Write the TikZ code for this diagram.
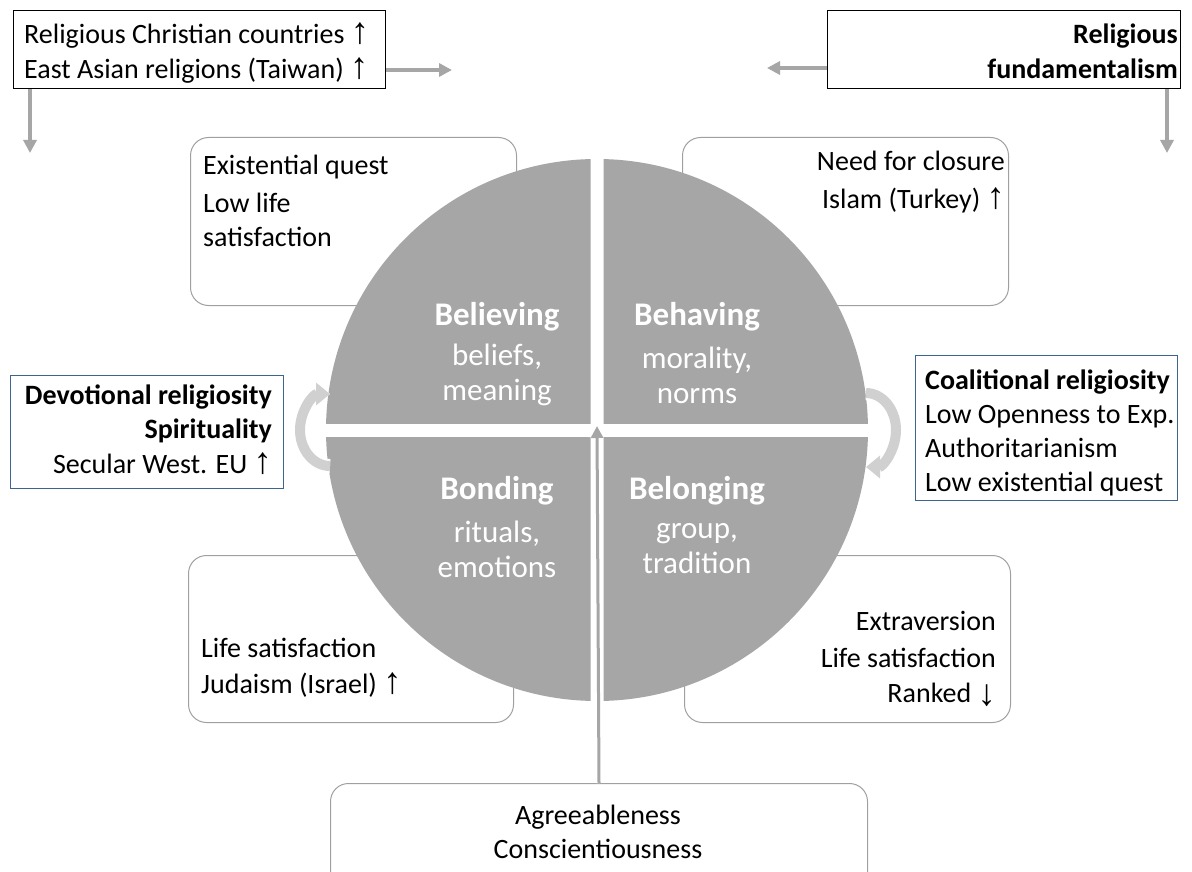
\documentclass[tikz,border=0pt]{standalone}
\usepackage{fontspec}
\setmainfont{Carlito}
\newfontfamily\arrfont{Liberation Sans}
\usetikzlibrary{arrows.meta}
\definecolor{circgray}{HTML}{A6A6A6}
\definecolor{arrgray}{HTML}{A6A6A6}
\definecolor{lightarr}{HTML}{D0D0D0}
\definecolor{boxgray}{HTML}{A0A0A0}
\definecolor{bluebd}{HTML}{3E6590}
\newcommand{\uarr}{\scalebox{1.3}[1.32]{\arrfont\char"2191}}
\newcommand{\darr}{\raisebox{-0.1em}{\scalebox{1.3}[1.32]{\arrfont\char"2193}}}
\begin{document}
\begin{tikzpicture}[x=1pt,y=-1pt,
 body/.style={font=\fontsize{28}{34}\selectfont, inner sep=0pt},
 quadhead/.style={font=\fontsize{33}{38}\selectfont\bfseries, text=white, inner sep=0pt},
 quadsub/.style={font=\fontsize{31}{35}\selectfont, text=white, inner sep=0pt, align=center},
 sharpbox/.style={draw=black, line width=1.2pt, inner sep=0pt},
 bluebox/.style={draw=bluebd, line width=1.2pt, inner sep=0pt},
 roundbox/.style={draw=boxgray, line width=1pt, rounded corners=18pt, inner sep=0pt},
 grayarrow/.style={draw=arrgray, line width=3.5pt, -{Triangle[length=13pt,width=13pt]}},
 cyclearrow/.style={draw=lightarr, line width=10pt, -{Triangle[length=14pt,width=22pt]}},
 cycleoutline/.style={draw=white, line width=14pt, -{Triangle[length=17pt,width=28pt]}},
 cenout/.style={draw=white, line width=7pt, -{Triangle[length=15pt,width=17pt]}},
 cenarr/.style={draw=arrgray, line width=3pt, -{Triangle[length=12pt,width=12pt]}},
]
\useasboundingbox[fill=white] (0,0) rectangle (1192,872);
\clip (0,0) rectangle (1192,872);

% rounded boxes (behind circle)
\node[roundbox, minimum width=326pt, minimum height=168pt, anchor=north west] (qbl1) at (190,137) {};
\node[roundbox, minimum width=326pt, minimum height=168pt, anchor=north west] (qbr1) at (682,137) {};
\node[roundbox, minimum width=325pt, minimum height=167pt, anchor=north west] (qbl2) at (188,555) {};
\node[roundbox, minimum width=326pt, minimum height=167pt, anchor=north west] (qbr2) at (684,555) {};
\node[roundbox, minimum width=537pt, minimum height=110pt, anchor=north west] (bbox) at (330,783) {};

% circle quadrants
\begin{scope}
\clip (300,100) rectangle (590.5,423);
\fill[circgray] (597,430) circle[radius=271];
\end{scope}
\begin{scope}
\clip (603.5,100) rectangle (900,423);
\fill[circgray] (597,430) circle[radius=271];
\end{scope}
\begin{scope}
\clip (300,437) rectangle (590.5,760);
\fill[circgray] (597,430) circle[radius=271];
\end{scope}
\begin{scope}
\clip (603.5,437) rectangle (900,760);
\fill[circgray] (597,430) circle[radius=271];
\end{scope}

% quadrant texts
\node[quadhead] (h1) at (497,317) {Believing};
\node[quadsub] (s1) at (497,375) {beliefs,\\meaning};
\node[quadhead] (h2) at (697,317) {Behaving};
\node[quadsub] (s2) at (697,375) {morality,\\norms};
\node[quadhead] (h3) at (497,491) {Bonding};
\node[quadsub] (s3) at (497,549) {rituals,\\emotions};
\node[quadhead] (h4) at (697,491) {Belonging};
\node[quadsub] (s4) at (697,549) {group,\\tradition};

% rounded box texts
\node[body, anchor=west, align=left] (t1) at (203,201) {Existential quest\\[4pt]Low life\\satisfaction};
\node[body, anchor=east, align=right] (t2) at (1005,182) {Need for closure\\[4pt]Islam (Turkey) \uarr};
\node[body, anchor=west, align=left] (t3) at (201,668) {Life satisfaction\\[2pt]Judaism (Israel) \uarr};
\node[body, anchor=east, align=right] (t4) at (996,659) {Extraversion\\[3pt]Life satisfaction\\[1pt]Ranked \darr};
\node[body, align=center] (t5) at (598,832) {Agreeableness\\Conscientiousness};

% top boxes
\node[sharpbox, minimum width=372pt, minimum height=78pt, anchor=north west] (tlbox) at (13,10) {};
\node[body, anchor=west, align=left] (tltext) at (24,53) {Religious Christian countries \uarr\\[1pt]East Asian religions (Taiwan) \uarr};
\node[sharpbox, minimum width=353pt, minimum height=78pt, anchor=north west] (trbox) at (827,10) {};
\node[body, anchor=east, align=right, font=\fontsize{28}{35}\selectfont\bfseries] (trtext) at (1178,51) {Religious\\fundamentalism};

\coordinate (tlR) at (452,70);
\coordinate (tlD) at (30,153);
\coordinate (trL) at (767,68);
\coordinate (trD) at (1167,153);
\draw[grayarrow] (tlbox.east |- tlR) -- (tlR);
\draw[grayarrow] (tlbox.south -| tlD) -- (tlD);
\draw[grayarrow] (trbox.west |- trL) -- (trL);
\draw[grayarrow] (trbox.south -| trD) -- (trD);

% side boxes
\node[bluebox, minimum width=273pt, minimum height=113pt, anchor=north west] (lbox) at (10,375) {};
\node[body, anchor=east, align=right] (ltext) at (272,430) {\textbf{Devotional religiosity}\\\textbf{Spirituality}\\[1pt]Secular West. EU \uarr};
\node[bluebox, minimum width=262pt, minimum height=145pt, anchor=north west] (rbox) at (915,355) {};
\node[body, anchor=west, align=left] (rtext) at (925,433) {\textbf{Coalitional religiosity}\\Low Openness to Exp.\\Authoritarianism\\Low existential quest};

% cycle arrows
\coordinate (lcs) at (330,466);
\coordinate (rcs) at (866,393);
\draw[cycleoutline] (lcs) arc[start angle=90, end angle=270, x radius=30, y radius=36];
\draw[cyclearrow] (lcs) arc[start angle=90, end angle=270, x radius=30, y radius=36];
\draw[cycleoutline] (rcs) arc[start angle=270, end angle=450, x radius=30, y radius=37];
\draw[cyclearrow] (rcs) arc[start angle=270, end angle=450, x radius=30, y radius=37];

% center arrow
\coordinate (ctipo) at (597,422);
\coordinate (ctip) at (597,426);
\draw[cenout] (bbox.north) -- (ctipo);
\draw[cenarr] (bbox.north) -- (ctip);
\end{tikzpicture}
\end{document}
